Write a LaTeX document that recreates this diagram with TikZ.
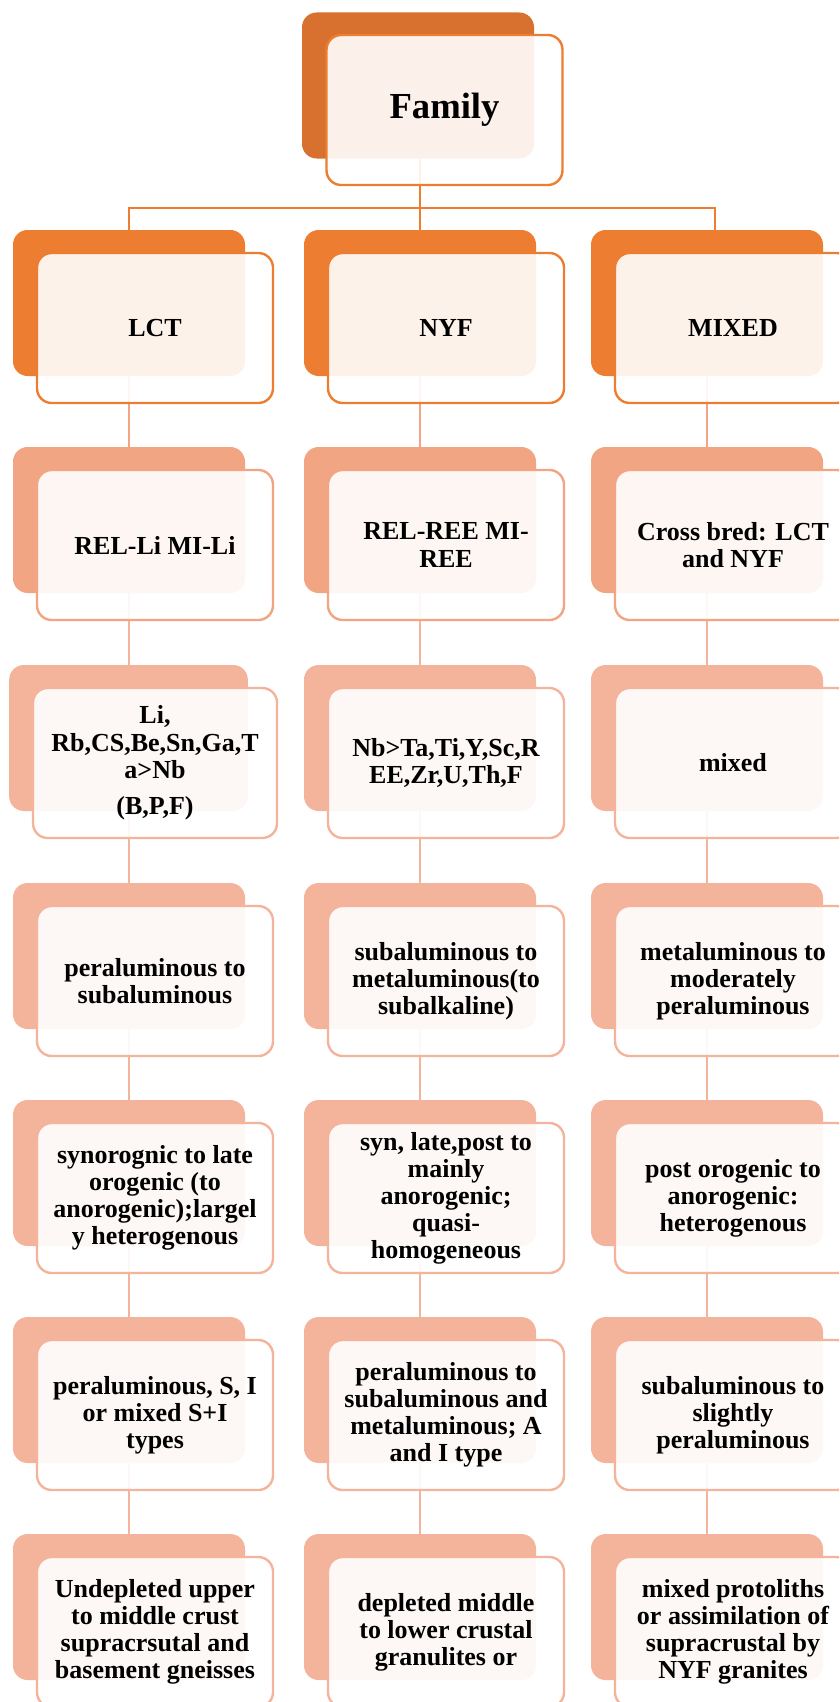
\documentclass[tikz,border=0pt]{standalone}
\usepackage{fontspec}
\setmainfont{Liberation Serif}
\usetikzlibrary{backgrounds}
\definecolor{famorange}{RGB}{216,113,47}
\definecolor{accorange}{RGB}{237,125,49}
\definecolor{salmonmid}{RGB}{241,165,131}
\definecolor{salmonlow}{RGB}{244,179,155}
\tikzset{
  backbox/.style={
    rectangle, rounded corners=11pt,
    minimum width=174pt, minimum height=109.5pt,
    fill=#1, draw=none, inner sep=0pt
  },
  textbox/.style={
    rectangle, rounded corners=11pt,
    minimum width=177pt, minimum height=112.5pt,
    align=center, font=\bfseries\fontsize{19.5}{20.3}\selectfont,
    draw=#1, line width=1.8pt,
    fill=white, fill opacity=0.9, text opacity=1, inner sep=2pt
  },
  linkline/.style={draw=#1, line width=1.5pt},
}

\begin{document}
\begin{tikzpicture}[x=0.75pt, y=-0.75pt]
      \useasboundingbox (0,0) rectangle (839,1702);
      \clip (0,0) rectangle (839,1702);
      % top
      \node[backbox=famorange](famb) at (418,85.5) {};
      \node[textbox=accorange, font=\bfseries\fontsize{27.5}{30}\selectfont](fam) at (444.5,110) {Family};
      % row 1
      \node[backbox=accorange](lb1) at (129,303) {};
      \node[backbox=accorange](nb1) at (420,303) {};
      \node[backbox=accorange](mb1) at (707,303) {};
      \node[textbox=accorange](l1) at (155,328) {LCT};
      \node[textbox=accorange](n1) at (446,328) {NYF};
      \node[textbox=accorange](m1) at (733,328) {MIXED};
      % row 2
      \node[backbox=salmonmid](lb2) at (129,520) {};
      \node[backbox=salmonmid](nb2) at (420,520) {};
      \node[backbox=salmonmid](mb2) at (707,520) {};
      \node[textbox=salmonmid](l2) at (155,545) {REL-Li MI-Li};
      \node[textbox=salmonmid](n2) at (446,545) {REL-REE MI-\\REE};
      \node[textbox=salmonmid](m2) at (733,545) {Cross bred: LCT\\and NYF};
      % row 3
      \node[backbox=salmonlow, minimum width=179pt](lb3) at (128.5,738) {};
      \node[backbox=salmonlow](nb3) at (420,738) {};
      \node[backbox=salmonlow](mb3) at (707,738) {};
      \node[textbox=salmonlow, minimum width=183pt](l3) at (155,763)
            {Li,\\Rb,CS,Be,Sn,Ga,T\\a>Nb\\[7pt](B,P,F)};
      \node[textbox=salmonlow](n3) at (446,763) {Nb>Ta,Ti,Y,Sc,R\\EE,Zr,U,Th,F};
      \node[textbox=salmonlow](m3) at (733,763) {mixed};
      % row 4
      \node[backbox=salmonlow](lb4) at (129,956) {};
      \node[backbox=salmonlow](nb4) at (420,956) {};
      \node[backbox=salmonlow](mb4) at (707,956) {};
      \node[textbox=salmonlow](l4) at (155,981) {peraluminous to\\subaluminous};
      \node[textbox=salmonlow](n4) at (446,981)
            {subaluminous to\\metaluminous(to\\subalkaline)};
      \node[textbox=salmonlow](m4) at (733,981)
            {metaluminous to\\moderately\\peraluminous};
      % row 5
      \node[backbox=salmonlow](lb5) at (129,1173) {};
      \node[backbox=salmonlow](nb5) at (420,1173) {};
      \node[backbox=salmonlow](mb5) at (707,1173) {};
      \node[textbox=salmonlow](l5) at (155,1198)
            {synorognic to late\\orogenic (to\\anorogenic);largel\\y heterogenous};
      \node[textbox=salmonlow](n5) at (446,1198)
            {syn, late,post to\\mainly\\anorogenic;\\quasi-\\homogeneous};
      \node[textbox=salmonlow](m5) at (733,1198)
            {post orogenic to\\anorogenic:\\heterogenous};
      % row 6
      \node[backbox=salmonlow](lb6) at (129,1390) {};
      \node[backbox=salmonlow](nb6) at (420,1390) {};
      \node[backbox=salmonlow](mb6) at (707,1390) {};
      \node[textbox=salmonlow](l6) at (155,1415)
            {peraluminous, S, I\\or mixed S+I\\types};
      \node[textbox=salmonlow](n6) at (446,1415)
            {peraluminous to\\subaluminous and\\metaluminous; A\\and I type};
      \node[textbox=salmonlow](m6) at (733,1415)
            {subaluminous to\\slightly\\peraluminous};
      % row 7
      \node[backbox=salmonlow](lb7) at (129,1607) {};
      \node[backbox=salmonlow](nb7) at (420,1607) {};
      \node[backbox=salmonlow](mb7) at (707,1607) {};
      \node[textbox=salmonlow](l7) at (155,1632)
            {Undepleted upper\\to middle crust\\supracrsutal and\\basement gneisses};
      \node[textbox=salmonlow](n7) at (446,1632)
            {depleted middle\\to lower crustal\\granulites or};
      \node[textbox=salmonlow](m7) at (733,1632)
            {mixed protoliths\\or assimilation of\\supracrustal by\\NYF granites};
      % links
      \begin{scope}[on background layer]
        \coordinate (hub) at (420,208);
        \draw[linkline=accorange](famb.south -| hub)--(hub);
        \draw[linkline=accorange](lb1.north)|-(hub)-|([xshift=6pt]mb1.north);
        \draw[linkline=accorange](hub)--(nb1.north);
        \draw[linkline=salmonmid](lb1.south)--(lb2.north);
        \draw[linkline=salmonmid](nb1.south)--(nb2.north);
        \draw[linkline=salmonmid](mb1.south)--(mb2.north);
        \draw[linkline=salmonlow](lb2.south)--(lb3.north -| lb2.south);
        \draw[linkline=salmonlow](nb2.south)--(nb3.north);
        \draw[linkline=salmonlow](mb2.south)--(mb3.north);
        \draw[linkline=salmonlow](lb3.south -| lb4.north)--(lb4.north);
        \draw[linkline=salmonlow](nb3.south)--(nb4.north);
        \draw[linkline=salmonlow](mb3.south)--(mb4.north);
        \draw[linkline=salmonlow](lb4.south)--(lb5.north);
        \draw[linkline=salmonlow](nb4.south)--(nb5.north);
        \draw[linkline=salmonlow](mb4.south)--(mb5.north);
        \draw[linkline=salmonlow](lb5.south)--(lb6.north);
        \draw[linkline=salmonlow](nb5.south)--(nb6.north);
        \draw[linkline=salmonlow](mb5.south)--(mb6.north);
        \draw[linkline=salmonlow](lb6.south)--(lb7.north);
        \draw[linkline=salmonlow](nb6.south)--(nb7.north);
        \draw[linkline=salmonlow](mb6.south)--(mb7.north);
      \end{scope}
    \end{tikzpicture}
\end{document}
